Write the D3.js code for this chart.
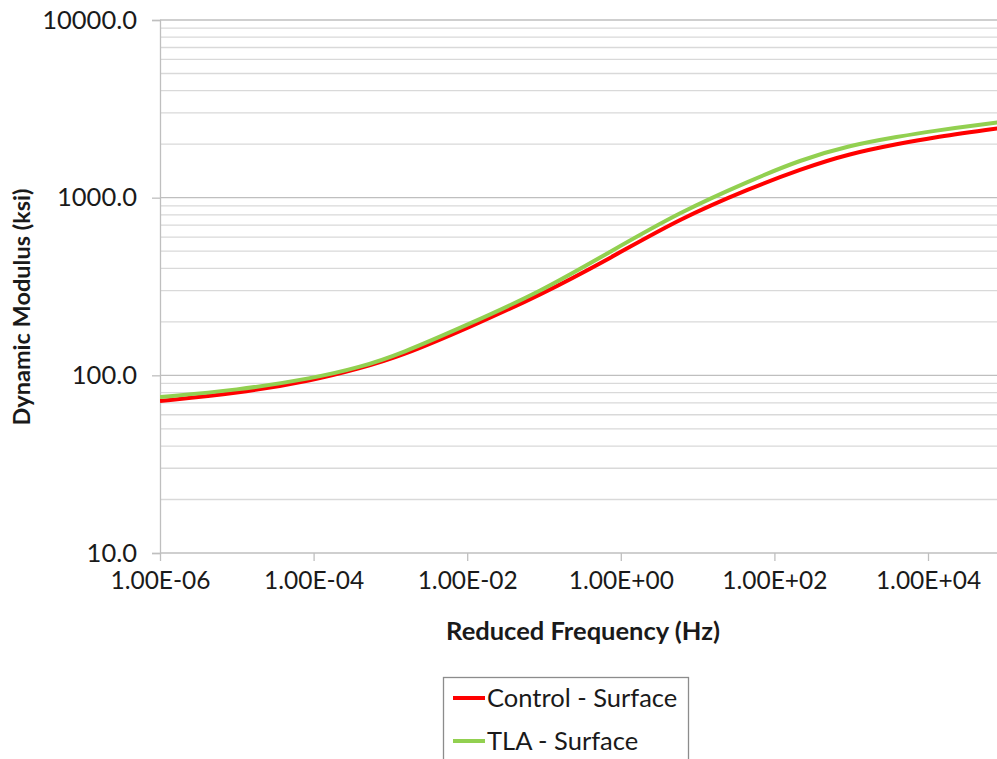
<!DOCTYPE html>
<html>
<head>
<meta charset="utf-8">
<script src="https://cdn.jsdelivr.net/npm/d3@7"></script>
<style>
  html, body { margin: 0; padding: 0; background: #fff; overflow: hidden; }
  svg { display: block; }
  text { font-family: Lato, "Open Sans", "Liberation Sans", sans-serif; fill: #1a1a1a; }
</style>
</head>
<body>
<svg id="chart" width="997" height="759"></svg>
<script>
// ---- data ----
const frequency = [1e-6, 1e-5, 1e-4, 4e-4, 1.33e-3, 1.09e-2, 8.9e-2, 0.72, 5.9, 50, 214, 955, 4365, 1e4, 8e4];
const controlSurface = [71.8, 79.0, 93.8, 109.6, 127.4, 187.3, 282.5, 455, 764, 1135, 1442, 1774, 2018, 2163, 2455];
const tlaSurface = [75.5, 82.4, 96.4, 111, 131.5, 195.6, 295, 495, 832, 1256, 1626, 1972, 2213, 2355, 2649];
const seriesNames = ["Control - Surface", "TLA - Surface"];
const seriesColors = ["#ff0000", "#92d050"];
const xTickValues = [1e-6, 1e-4, 1e-2, 1e0, 1e2, 1e4];
const xTickLabels = ["1.00E-06", "1.00E-04", "1.00E-02", "1.00E+00", "1.00E+02", "1.00E+04"];
const yTickValues = [10, 100, 1000, 10000];
const yTickLabels = ["10.0", "100.0", "1000.0", "10000.0"];

(function () {
const svg = d3.select("#chart");
const mLeft = 160, mTop = 20, mBottom = 553;
const pxPerDecade = 76.8;

const x = d3.scaleLog().domain([1e-6, 1e6]).range([mLeft, mLeft + 12 * pxPerDecade]);
const y = d3.scaleLog().domain([10, 10000]).range([mBottom, mTop]);
const plotRight = 997;

// minor gridlines
const minorVals = [];
for (let d = 10; d < 10000; d *= 10) for (let m = 2; m <= 9; m++) minorVals.push(d * m);
svg.append("g").selectAll("line").data(minorVals).join("line")
  .attr("x1", mLeft).attr("x2", plotRight)
  .attr("y1", d => y(d)).attr("y2", d => y(d))
  .attr("stroke", "#d9d9d9").attr("stroke-width", 1.3);

// major gridlines
svg.append("g").selectAll("line").data(yTickValues.slice(1)).join("line")
  .attr("x1", mLeft).attr("x2", plotRight)
  .attr("y1", d => y(d)).attr("y2", d => y(d))
  .attr("stroke", "#bfbfbf").attr("stroke-width", 1.3);

// y axis
const yAxis = d3.axisLeft(y).tickValues(yTickValues)
  .tickFormat((d, i) => yTickLabels[i]).tickSize(8).tickPadding(15);
const gy = svg.append("g").attr("transform", `translate(${mLeft},0)`).call(yAxis);
gy.select(".domain").attr("stroke", "#bfbfbf").attr("stroke-width", 1.3);
gy.selectAll(".tick line").attr("stroke", "#bfbfbf").attr("stroke-width", 1.3);
gy.selectAll(".tick text").style("font-size", "25.5px").attr("fill", "#1a1a1a");

// x axis
const xAxis = d3.axisBottom(x).tickValues(xTickValues)
  .tickFormat((d, i) => xTickLabels[i]).tickSize(8).tickPadding(11);
const gx = svg.append("g").attr("transform", `translate(0,${mBottom})`).call(xAxis);
gx.select(".domain").remove();
gx.append("line").attr("x1", mLeft).attr("x2", plotRight).attr("y1", 0).attr("y2", 0)
  .attr("stroke", "#bfbfbf").attr("stroke-width", 1.3);
gx.selectAll(".tick line").attr("stroke", "#bfbfbf").attr("stroke-width", 1.3);
gx.selectAll(".tick text").style("font-size", "24.5px").attr("fill", "#1a1a1a");

// axis titles
svg.append("text").attr("x", 583).attr("y", 640).attr("text-anchor", "middle")
  .style("font-size", "25.5px").style("font-weight", "bold").text("Reduced Frequency (Hz)");
svg.append("text").attr("transform", "translate(30,307) rotate(-90)").attr("text-anchor", "middle")
  .style("font-size", "23.5px").style("font-weight", "bold").text("Dynamic Modulus (ksi)");

// lines
const line = d3.line().x(d => x(d[0])).y(d => y(d[1])).curve(d3.curveBasis);
const series = [controlSurface, tlaSurface];
svg.append("defs").append("clipPath").attr("id", "clip").append("rect")
  .attr("x", mLeft).attr("y", mTop).attr("width", plotRight - mLeft).attr("height", mBottom - mTop);
const gLines = svg.append("g").attr("clip-path", "url(#clip)");
series.forEach((vals, i) => {
  gLines.append("path").datum(frequency.map((f, j) => [f, vals[j]]))
    .attr("d", line).attr("fill", "none")
    .attr("stroke", seriesColors[i]).attr("stroke-width", 4);
});

// legend
const lg = svg.append("g");
lg.append("rect").attr("x", 443.5).attr("y", 677.5).attr("width", 245).attr("height", 100)
  .attr("fill", "#fff").attr("stroke", "#8c8c8c").attr("stroke-width", 1.3);
seriesNames.forEach((name, i) => {
  const cy = 698 + i * 43;
  lg.append("line").attr("x1", 453).attr("x2", 485).attr("y1", cy).attr("y2", cy)
    .attr("stroke", seriesColors[i]).attr("stroke-width", 4);
  lg.append("text").attr("x", 487).attr("y", cy).attr("dy", "0.35em")
    .style("font-size", "25.5px").text(name);
});
})();
</script>
</body>
</html>
